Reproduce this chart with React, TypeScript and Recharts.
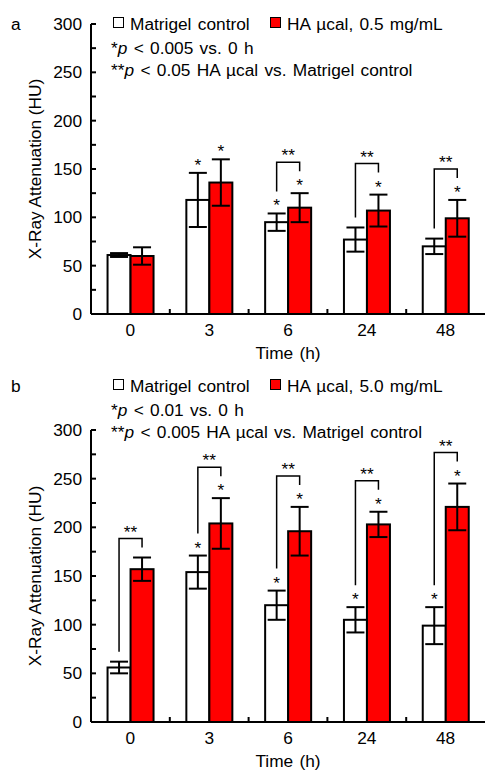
import React from 'react';
import { BarChart, Bar, XAxis, YAxis, ErrorBar } from 'recharts';

const times = ['0', '3', '6', '24', '48'];
const yTicks = [0, 25, 50, 75, 100, 125, 150, 175, 200, 225, 250, 275, 300];

// panel a: 0.5 mg/mL
const controlA = [61, 118, 95, 77, 70];
const controlAErr = [2, 28, 9, 12.5, 8];
const haA = [60, 136, 110, 107, 99];
const haAErr = [9, 24, 15, 16.5, 19];
const starControlA = [false, true, true, false, false];
const starHaA = [false, true, true, true, true];
const bracketA = [false, false, true, true, true];

// panel b: 5.0 mg/mL
const controlB = [56, 154, 120, 105, 99];
const controlBErr = [6, 17, 15, 13, 19];
const haB = [157, 204, 196, 203, 221];
const haBErr = [12, 26, 25, 13, 24];
const starControlB = [false, true, true, true, true];
const starHaB = [false, true, true, true, true];
const bracketB = [true, true, true, true, true];

const FONT = '"Liberation Sans", Arial, sans-serif';
const RED = '#ff0000';
const W = 485;
const AXIS_X = 91;
const BAND = (W - AXIS_X) / times.length;
const FS = 17.3;

interface PanelProps {
  control: number[];
  controlErr: number[];
  ha: number[];
  haErr: number[];
  starControl: boolean[];
  starHa: boolean[];
  bracket: boolean[];
  height: number;
  top: number;
  axisHeight: number;
}

const Panel: React.FC<PanelProps> = ({ control, controlErr, ha, haErr, starControl, starHa, bracket, height, top, axisHeight }) => {
  const rows = times.map((t, i) => ({
    time: t,
    control: control[i],
    controlErr: controlErr[i],
    ha: ha[i],
    haErr: haErr[i],
  }));

  const idx = (p: any) => (typeof p.index === 'number' ? p.index : times.indexOf(p.payload?.time));

  const controlShape = (p: any) => {
    const { x, y, width: w, height: h } = p;
    const i = idx(p);
    const base = y + h;
    const k = h / control[i];
    const toPx = (v: number) => base - v * k;
    const cx = x + w / 2;
    const hx = x + w * 1.5;
    const cTop = toPx(control[i] + controlErr[i]);
    const hTop = toPx(ha[i] + haErr[i]);
    const left = cTop - (starControl[i] ? 22 : 10);
    const right = hTop - (starHa[i] ? 22 : 10);
    const bTop = Math.min(left, right) - 9;
    return (
      <g>
        <rect x={x} y={y} width={w} height={h} fill="#fff" stroke="#000" strokeWidth={2} />
        {starControl[i] && (
          <text x={cx} y={cTop - 2} textAnchor="middle" fontSize={FS} fontFamily={FONT}>*</text>
        )}
        {bracket[i] && (
          <g>
            <path d={`M${cx},${left} V${bTop} H${hx} V${right}`} fill="none" stroke="#000" strokeWidth={1.5} />
            <text x={(cx + hx) / 2} y={bTop - 1} textAnchor="middle" fontSize={FS} fontFamily={FONT}>**</text>
          </g>
        )}
      </g>
    );
  };

  const haShape = (p: any) => {
    const { x, y, width: w, height: h } = p;
    const i = idx(p);
    const base = y + h;
    const k = h / ha[i];
    const hTop = base - (ha[i] + haErr[i]) * k;
    return (
      <g>
        <rect x={x} y={y} width={w} height={h} fill={RED} stroke="#000" strokeWidth={2} />
        {starHa[i] && (
          <text x={x + w / 2} y={hTop - 2} textAnchor="middle" fontSize={FS} fontFamily={FONT}>*</text>
        )}
      </g>
    );
  };

  const yTick = (p: any) => {
    const v = p.payload.value;
    return (
      <g>
        <line x1={p.x} x2={p.x + 5} y1={p.y} y2={p.y} stroke="#000" strokeWidth={2} />
        {v % 50 === 0 && (
          <text x={p.x - 9} y={p.y} textAnchor="end" dominantBaseline="central" fontSize={FS} fontFamily={FONT} fill="#000">
            {v}
          </text>
        )}
      </g>
    );
  };

  const xTick = (p: any) => {
    const bx = p.x + BAND / 2;
    return (
      <g>
        <text x={p.x} y={p.y + 22} textAnchor="middle" fontSize={FS} fontFamily={FONT} fill="#000">
          {p.payload.value}
        </text>
        {p.index < times.length - 1 && <line x1={bx} x2={bx} y1={p.y} y2={p.y - 5} stroke="#000" strokeWidth={2} />}
      </g>
    );
  };

  return (
    <div style={{ position: 'absolute', left: 0, top: 0 }}>
      <BarChart
        width={W}
        height={height}
        data={rows}
        margin={{ top, right: 0, bottom: 0, left: 0 }}
        barCategoryGap="21%"
        barGap={0}
      >
        <XAxis
          dataKey="time"
          height={axisHeight}
          tickSize={0}
          tickMargin={0}
          tickLine={false}
          axisLine={{ stroke: '#000', strokeWidth: 2 }}
          tick={xTick}
          interval={0}
        />
        <YAxis
          type="number"
          domain={[0, 300]}
          ticks={yTicks}
          interval={0}
          width={AXIS_X}
          tickSize={0}
          tickMargin={0}
          tickLine={false}
          axisLine={{ stroke: '#000', strokeWidth: 2 }}
          tick={yTick}
        />
        <Bar dataKey="control" fill="#fff" stroke="#000" isAnimationActive={false} shape={controlShape}>
          <ErrorBar dataKey="controlErr" width={9} stroke="#000" strokeWidth={2} direction="y" isAnimationActive={false} />
        </Bar>
        <Bar dataKey="ha" fill={RED} stroke="#000" isAnimationActive={false} shape={haShape}>
          <ErrorBar dataKey="haErr" width={9} stroke="#000" strokeWidth={2} direction="y" isAnimationActive={false} />
        </Bar>
      </BarChart>
    </div>
  );
};

const Txt: React.FC<{ x: number; y: number; children: React.ReactNode }> = ({ x, y, children }) => (
  <div style={{ position: 'absolute', left: x, top: y - 10, lineHeight: '20px', fontSize: FS, wordSpacing: 1.5, whiteSpace: 'nowrap' }}>
    {children}
  </div>
);

const Swatch: React.FC<{ x: number; y: number; color: string }> = ({ x, y, color }) => (
  <div
    style={{
      position: 'absolute',
      left: x,
      top: y - 6,
      width: 9,
      height: 9,
      background: color,
      border: '1.5px solid #000',
    }}
  />
);

const YLabel: React.FC<{ y: number }> = ({ y }) => (
  <div
    style={{
      position: 'absolute',
      left: 35,
      top: y,
      fontSize: FS,
      lineHeight: '20px',
      whiteSpace: 'nowrap',
      transform: 'translate(-50%, -50%) rotate(-90deg)',
    }}
  >
    X-Ray Attenuation (HU)
  </div>
);

const XLabel: React.FC<{ y: number }> = ({ y }) => (
  <div
    style={{
      position: 'absolute',
      left: 288,
      top: y,
      fontSize: FS,
      lineHeight: '20px',
      wordSpacing: 1.5,
      whiteSpace: 'nowrap',
      transform: 'translate(-50%, -50%)',
    }}
  >
    Time (h)
  </div>
);

export default function App() {
  return (
    <div style={{ position: 'absolute', left: 0, top: 0, width: W, height: 770, background: '#fff', fontFamily: FONT, color: '#000', overflow: 'hidden' }}>
      <div style={{ position: 'absolute', left: 0, top: 0, width: W, height: 385 }}>
        <Panel
          control={controlA}
          controlErr={controlAErr}
          ha={haA}
          haErr={haAErr}
          starControl={starControlA}
          starHa={starHaA}
          bracket={bracketA}
          height={385}
          top={24}
          axisHeight={71}
        />
        <Txt x={11} y={24}>a</Txt>
        <Swatch x={113} y={23} color="#fff" />
        <Txt x={130} y={24}>Matrigel control</Txt>
        <Swatch x={270} y={23} color={RED} />
        <Txt x={287} y={24}>HA µcal, 0.5 mg/mL</Txt>
        <Txt x={111} y={48}>*<i>p</i> &lt; 0.005 vs. 0 h</Txt>
        <Txt x={111} y={70}>**<i>p</i> &lt; 0.05 HA µcal vs. Matrigel control</Txt>
        <YLabel y={169} />
        <XLabel y={353} />
      </div>
      <div style={{ position: 'absolute', left: 0, top: 385, width: W, height: 385 }}>
        <Panel
          control={controlB}
          controlErr={controlBErr}
          ha={haB}
          haErr={haBErr}
          starControl={starControlB}
          starHa={starHaB}
          bracket={bracketB}
          height={385}
          top={45}
          axisHeight={48}
        />
        <Txt x={11} y={1}>b</Txt>
        <Swatch x={113} y={0} color="#fff" />
        <Txt x={130} y={1}>Matrigel control</Txt>
        <Swatch x={270} y={0} color={RED} />
        <Txt x={287} y={1}>HA µcal, 5.0 mg/mL</Txt>
        <Txt x={111} y={25}>*<i>p</i> &lt; 0.01 vs. 0 h</Txt>
        <Txt x={111} y={47}>**<i>p</i> &lt; 0.005 HA µcal vs. Matrigel control</Txt>
        <YLabel y={191} />
        <XLabel y={376} />
      </div>
    </div>
  );
}
